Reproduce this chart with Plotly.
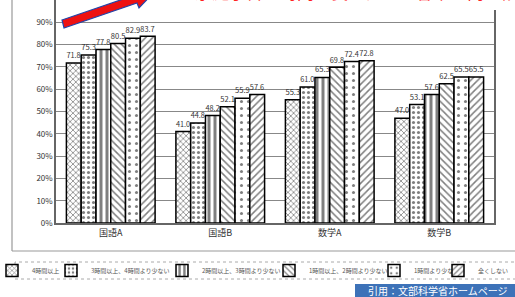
import plotly.graph_objects as go

categories = ["国語A", "国語B", "数学A", "数学B"]
series_names = ["4時間以上", "3時間以上、4時間より少ない", "2時間以上、3時間より少ない",
                "1時間以上、2時間より少ない", "1時間より少ない", "全くしない"]
v_4h = [71.8, 41.0, 55.3, 47.0]
v_3h = [75.3, 44.8, 61.0, 53.1]
v_2h = [77.8, 48.2, 65.3, 57.6]
v_1h = [80.5, 52.1, 69.8, 62.5]
v_lt1 = [82.9, 55.9, 72.4, 65.5]
v_none = [83.7, 57.6, 72.8, 65.5]
series_values = [v_4h, v_3h, v_2h, v_1h, v_lt1, v_none]
y_ticks = list(range(0, 101, 10))
y_ticklabels = [f"{t}%" for t in y_ticks]

patterns = [
    dict(shape="x", size=4, solidity=0.35),
    dict(shape=".", size=5, solidity=0.3),
    dict(shape="|", size=6, solidity=0.5),
    dict(shape="\\", size=5, solidity=0.3),
    dict(shape=".", size=7, solidity=0.15),
    dict(shape="/", size=5, solidity=0.3),
]

W, H = 515, 297
L, R, T, B = 56, 21, 0, 74
pw, ph = W - L - R, H - T - B

def px(x):
    return (x - L) / pw

def py(y):
    return (H - B - y) / ph

legend_text_x = [30, 89, 200, 307, 412, 476]
legend_ids = ["legend", "legend2", "legend3", "legend4", "legend5", "legend6"]

fig = go.Figure()
for name, vals, pat, lid in zip(series_names, series_values, patterns, legend_ids):
    fig.add_trace(go.Bar(
        x=categories, y=vals, name=name, legend=lid,
        text=[f"{v:.1f}" for v in vals], textposition="outside",
        textfont=dict(size=8, color="#333333"), cliponaxis=False,
        marker=dict(color="white", line=dict(color="black", width=1.5),
                    pattern=dict(fgcolor="black", bgcolor="white", fillmode="overlay", **pat)),
    ))

shapes = []
# outer frame (left and bottom)
shapes.append(dict(type="line", xref="paper", yref="paper", x0=px(12), x1=px(12), y0=py(251), y1=py(-5),
                   line=dict(color="#999999", width=1.2)))
shapes.append(dict(type="line", xref="paper", yref="paper", x0=px(12), x1=px(520), y0=py(251), y1=py(251),
                   line=dict(color="#999999", width=1.2)))
# white title strip
shapes.append(dict(type="rect", xref="paper", yref="paper", x0=px(215), x1=px(520), y0=py(10), y1=py(-5),
                   fillcolor="white", line=dict(width=0), layer="above"))
# red arrow
pts = [(62, 20), (135, -5), (133, -10), (158, -12), (139, 8), (137, 3), (64, 28)]
path = "M " + " L ".join(f"{px(x):.4f},{py(y):.4f}" for x, y in pts) + " Z"
shapes.append(dict(type="path", xref="paper", yref="paper", path=path,
                   fillcolor="#ee1111", line=dict(color="#2244aa", width=1.2), layer="above"))
# legend box (dotted)
shapes.append(dict(type="rect", xref="paper", yref="paper", x0=px(15), x1=px(520), y0=py(279), y1=py(262),
                   fillcolor="rgba(0,0,0,0)", line=dict(color="#aaaaaa", width=1, dash="dot")))
# source box
shapes.append(dict(type="rect", xref="paper", yref="paper", x0=px(355), x1=px(520), y0=py(298), y1=py(284),
                   fillcolor="#3d72b8", line=dict(width=0)))

annotations = [
    dict(text="引用：文部科学省ホームページ", xref="paper", yref="paper", x=px(438), y=py(290.5),
         showarrow=False, font=dict(size=10, color="white"), xanchor="center", yanchor="middle"),
    dict(text="家庭学習の時間が長いほど正答率が高い傾向", xref="paper", yref="paper", x=px(365), y=py(6),
         showarrow=False, font=dict(size=17, color="#ff2020"), xanchor="center", yanchor="bottom"),
]

layout_legends = {}
for lid, tx in zip(legend_ids, legend_text_x):
    layout_legends[lid] = dict(
        x=px(tx - 38), y=py(270.5), xanchor="left", yanchor="middle",
        orientation="h", font=dict(size=6, color="#555555"),
        bgcolor="rgba(0,0,0,0)", borderwidth=0, itemwidth=30,
    )

fig.update_layout(
    width=W, height=H,
    margin=dict(l=L, r=R, t=T, b=B, autoexpand=False),
    paper_bgcolor="white", plot_bgcolor="white",
    barmode="group", bargap=0.19, bargroupgap=0,
    font=dict(family="Noto Sans CJK JP, Arial", color="#333333"),
    showlegend=True,
    shapes=shapes, annotations=annotations,
    **layout_legends,
)
fig.update_yaxes(range=[0, 100], tickvals=y_ticks, ticktext=y_ticklabels, automargin=False,
                 showgrid=True, gridcolor="#888888", gridwidth=1,
                 showline=True, linecolor="#666666", linewidth=1.5, mirror=True,
                 tickfont=dict(size=8, color="#333333"), ticks="", zeroline=False)
fig.update_xaxes(showline=True, linecolor="#666666", linewidth=1.5, automargin=False,
                 tickfont=dict(size=9, color="#333333"), ticks="")

fig.write_html("out.html", config={"displayModeBar": False},
               post_script="document.body.style.margin='0';document.body.style.overflow='hidden';")
